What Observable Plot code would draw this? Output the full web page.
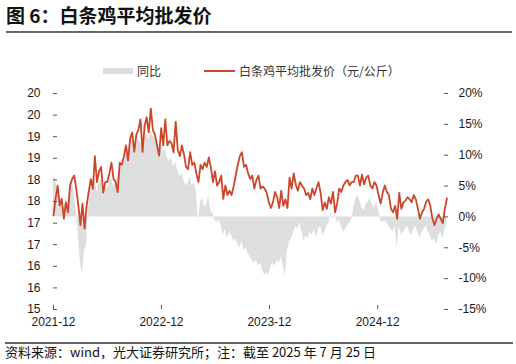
<!DOCTYPE html>
<html><head><meta charset="utf-8">
<script src="https://cdn.jsdelivr.net/npm/d3@7"></script>
<script src="https://cdn.jsdelivr.net/npm/@observablehq/plot@0.6"></script>
<style>
body{margin:0;background:#fff;}
#wrap{position:relative;width:516px;height:364px;overflow:hidden;background:#fff;font-family:"Liberation Sans","Noto Sans CJK SC",sans-serif;}
#title{position:absolute;left:6px;top:4px;font-size:19px;font-weight:bold;line-height:22px;color:#111;font-family:"Noto Sans CJK SC","Liberation Sans",sans-serif;white-space:nowrap;}
.rule{position:absolute;height:2px;background:#666;}
#legend{position:absolute;left:0;top:62px;width:516px;height:18px;font-size:12px;color:#333;font-family:"Noto Sans CJK SC",sans-serif;}
#legend .sw{position:absolute;}
#legend .tx{position:absolute;top:0;line-height:18px;white-space:nowrap;}
.chart{position:absolute;left:0;top:80px;}
#source{position:absolute;left:5px;top:343px;font-size:13px;line-height:18px;color:#111;font-family:"Noto Sans CJK SC","Liberation Sans",sans-serif;white-space:nowrap;}
</style></head><body>
<div id="wrap">
  <div id="title">图 6：白条鸡平均批发价</div>
  <div class="rule" style="left:6px;top:31px;width:506px;"></div>
  <div id="legend"></div>
  <div class="chart" id="c1"></div>
  <div class="chart" id="c2"></div>
  <div class="rule" style="left:5px;top:342px;width:508px;"></div>
  <div id="source">资料来源：wind，光大证券研究所；注：截至 2025 年 7 月 25 日</div>
</div>
<script>
// ---- data (weekly readings, 2021-12-01 onward) ----
const seriesNames = ["同比", "白条鸡平均批发价（元/公斤）"];
const startDate = "2021-12-01";
const endDate = "2025-07-25";
const price = [
17.18,17.56,17.87,17.41,17.56,17.10,17.48,17.25,17.87,18.02,
18.10,17.79,17.41,16.95,17.45,16.87,17.40,17.72,18.02,17.79,
18.55,17.95,18.20,18.30,17.70,17.95,17.95,18.15,18.40,18.02,
17.95,17.72,18.40,18.35,18.55,18.80,18.45,18.95,19.10,18.65,
19.05,19.15,19.40,18.65,19.25,19.45,19.10,19.65,19.15,19.05,
18.80,18.56,19.20,18.80,19.40,18.80,18.90,18.85,18.64,19.35,
18.70,18.55,18.80,18.60,18.30,18.25,18.64,18.35,18.40,18.15,
17.95,18.35,18.25,18.40,18.30,18.52,18.30,17.95,18.20,17.87,
17.95,18.10,17.56,17.87,17.65,17.75,17.65,17.85,18.10,18.35,
18.55,18.64,18.30,18.35,18.15,18.02,18.10,17.80,18.00,18.10,
17.80,17.85,17.80,17.70,17.48,17.35,17.48,17.72,17.60,17.35,
17.75,17.40,17.55,17.35,18.05,17.80,18.15,17.90,17.75,17.95,
17.87,17.80,17.65,17.70,17.55,17.80,17.65,17.80,17.95,17.70,
17.30,17.48,17.33,17.60,17.45,17.72,17.25,17.45,17.80,17.72,
17.87,17.95,18.00,17.87,17.95,17.95,18.10,18.10,17.87,18.12,
17.90,18.05,18.10,17.87,17.80,17.95,17.87,17.65,17.45,17.70,
17.87,17.72,17.65,17.33,17.25,17.40,17.10,17.70,17.33,17.48,
17.52,17.60,17.55,17.48,17.65,17.55,17.33,17.10,17.25,17.33,
17.50,17.55,17.40,17.10,16.95,17.10,17.20,17.10,17.00,17.33,
17.57];
const yoy = [
7.0,6.0,4.5,2.0,3.5,1.0,3.0,2.0,5.5,6.0,
4.0,1.0,-3.0,-7.5,-9.0,-5.5,-4.5,1.5,5.0,4.0,
6.5,4.0,5.5,6.0,3.0,5.0,4.5,5.5,6.5,5.0,
5.5,6.5,8.5,8.0,9.0,11.0,10.5,12.0,12.5,11.0,
12.0,12.5,12.0,11.0,12.5,13.5,12.5,14.0,13.0,13.0,
11.5,10.5,11.5,10.5,11.0,9.5,9.0,9.5,8.0,9.0,
7.5,6.5,7.0,6.0,5.0,5.5,6.5,5.0,5.5,4.0,
-1.0,2.5,3.0,1.5,2.0,3.5,1.0,0.5,-0.5,-1.0,
-0.5,-1.5,-3.0,-2.0,-3.5,-2.5,-3.0,-4.0,-3.5,-4.5,
-5.0,-4.0,-5.5,-5.0,-6.0,-6.5,-7.0,-7.5,-7.0,-8.0,
-7.5,-8.5,-9.5,-9.0,-9.5,-8.0,-7.5,-8.0,-7.0,-7.5,
-6.5,-8.0,-9.5,-5.5,-4.0,-3.5,-2.5,-1.5,-2.0,-1.0,
-2.5,-4.0,-3.0,-3.5,-2.5,-3.0,-2.0,-3.5,-2.0,-1.5,
-3.0,-2.5,-1.5,-1.0,0.5,-0.5,0.5,-1.0,-0.5,-1.5,
-2.5,-2.0,-1.5,-1.0,-0.5,1.5,3.0,3.5,2.5,1.5,
1.0,2.0,2.5,3.0,2.0,1.5,2.5,1.0,-0.5,-1.0,
-0.5,-1.0,-1.5,-2.0,-2.5,-1.5,-5.0,-1.5,-3.0,-2.5,
-2.0,-1.5,-2.5,-3.0,-2.0,-1.5,-2.5,-3.5,-2.5,-2.0,
-1.5,-2.5,-3.0,-4.0,-3.5,-4.5,-3.0,-2.5,-3.5,-2.0,
-1.0];
const xTickLabels = ["2021-12", "2022-12", "2023-12", "2024-12"];
const leftTicks = [15, 15.5, 16, 16.5, 17, 17.5, 18, 18.5, 19, 19.5, 20];
const leftTickLabels = ["15", "16", "16", "17", "17", "18", "18", "19", "19", "20", "20"];
const rightTicks = [-15, -10, -5, 0, 5, 10, 15, 20];
const rightTickLabels = ["-15%", "-10%", "-5%", "0%", "5%", "10%", "15%", "20%"];
const colors = {area: "#dedede", line: "#cc462b"};

// ---- build table ----
const parse = d3.utcParse("%Y-%m-%d");
const t0 = parse(startDate);
const data = price.map((p, i) => ({date: d3.utcDay.offset(t0, 7 * i), price: p, yoy: yoy[i]}));
const xTicks = xTickLabels.map(s => parse(s + "-01"));
const xDomain = [t0, parse(endDate)];

const W = 516, H = 255;
const margins = {marginTop: 13, marginBottom: 26, marginLeft: 53, marginRight: 69};
const style = {fontSize: "12px", fontFamily: "Liberation Sans, Arial, sans-serif", background: "transparent", overflow: "visible"};

const p1 = Plot.plot({
  width: W, height: H, ...margins, style,
  x: {type: "utc", domain: xDomain, axis: null},
  y: {domain: [-15, 20]},
  marks: [
    Plot.areaY(data, {x: "date", y: "yoy", fill: colors.area}),
    Plot.axisY({anchor: "right", ticks: rightTicks, tickFormat: (d) => rightTickLabels[rightTicks.indexOf(d)],
      tickSize: -4, tickPadding: 15, line: true, stroke: "#555", fill: "#1a1a1a", label: null})
  ]
});
document.getElementById("c1").appendChild(p1);

const p2 = Plot.plot({
  width: W, height: H, ...margins, style,
  x: {type: "utc", domain: xDomain},
  y: {domain: [15, 20]},
  marks: [
    Plot.lineY(data, {x: "date", y: "price", stroke: colors.line, strokeWidth: 1.8}),
    Plot.axisY({anchor: "left", ticks: leftTicks, tickFormat: (d) => leftTickLabels[leftTicks.indexOf(d)],
      tickSize: -4, tickPadding: 17, line: true, stroke: "#555", fill: "#1a1a1a", label: null}),
    Plot.axisX({anchor: "bottom", ticks: xTicks, tickFormat: (d) => xTickLabels[xTicks.findIndex(t => +t === +d)],
      tickSize: -4, tickPadding: 12, line: true, stroke: "#555", fill: "#1a1a1a", label: null})
  ]
});
document.getElementById("c2").appendChild(p2);

// ---- legend ----
const lg = document.getElementById("legend");
lg.innerHTML =
  `<div class="sw" style="left:103px;top:6px;width:30px;height:6px;background:${colors.area}"></div>` +
  `<div class="tx" style="left:137px">${seriesNames[0]}</div>` +
  `<div class="sw" style="left:204px;top:8px;width:31px;height:2px;background:${colors.line}"></div>` +
  `<div class="tx" style="left:239px">${seriesNames[1]}</div>`;
</script>
</body></html>
